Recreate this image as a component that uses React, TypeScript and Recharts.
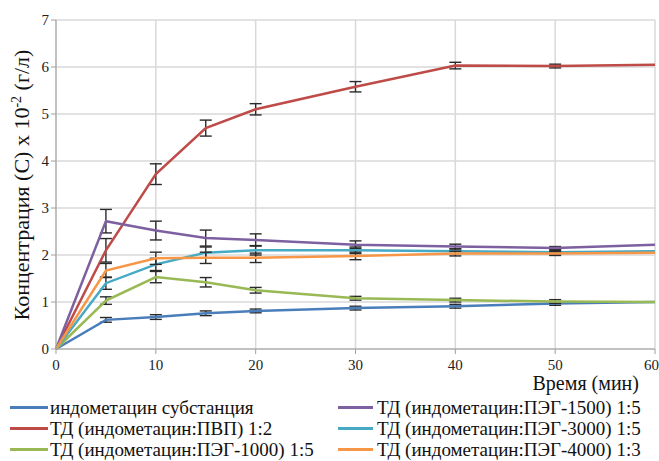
import { FC } from "react";
import {
  LineChart,
  Line,
  XAxis,
  YAxis,
  CartesianGrid,
  ErrorBar,
} from "recharts";

// Время (мин)
const times = [0, 5, 10, 15, 20, 30, 40, 50, 60];

// Концентрация (C) x 10^-2 (г/л)
const substance = [0, 0.62, 0.68, 0.76, 0.81, 0.87, 0.91, 0.97, 1.0];
const pvp = [0, 2.1, 3.72, 4.7, 5.1, 5.58, 6.03, 6.02, 6.05];
const peg1000 = [0, 1.03, 1.53, 1.42, 1.25, 1.08, 1.04, 1.01, 1.0];
const peg1500 = [0, 2.72, 2.52, 2.36, 2.32, 2.22, 2.18, 2.15, 2.22];
const peg3000 = [0, 1.4, 1.8, 2.05, 2.1, 2.1, 2.08, 2.06, 2.08];
const peg4000 = [0, 1.67, 1.93, 1.94, 1.94, 1.98, 2.03, 2.03, 2.05];

// error bar half-widths
const substanceErr = [0, 0.05, 0.05, 0.05, 0.04, 0.04, 0.04, 0.04, 0];
const pvpErr = [0, 0.25, 0.22, 0.17, 0.12, 0.11, 0.07, 0.04, 0];
const peg1000Err = [0, 0.08, 0.12, 0.1, 0.06, 0.04, 0.04, 0.04, 0];
const peg1500Err = [0, 0.25, 0.2, 0.17, 0.13, 0.08, 0.05, 0.03, 0];
const peg3000Err = [0, 0.13, 0.13, 0.12, 0.1, 0.07, 0.05, 0.04, 0];
const peg4000Err = [0, 0.15, 0.13, 0.12, 0.1, 0.08, 0.05, 0.04, 0];

const xTicks = [0, 10, 20, 30, 40, 50, 60];
const yTicks = [0, 1, 2, 3, 4, 5, 6, 7];

const series = [
  { key: "substance", name: "индометацин субстанция", color: "#4a7ebb", values: substance, err: substanceErr },
  { key: "pvp", name: "ТД (индометацин:ПВП) 1:2", color: "#be4b48", values: pvp, err: pvpErr },
  { key: "peg1000", name: "ТД (индометацин:ПЭГ-1000) 1:5", color: "#98b954", values: peg1000, err: peg1000Err },
  { key: "peg1500", name: "ТД (индометацин:ПЭГ-1500) 1:5", color: "#7d60a0", values: peg1500, err: peg1500Err },
  { key: "peg3000", name: "ТД (индометацин:ПЭГ-3000) 1:5", color: "#46aac5", values: peg3000, err: peg3000Err },
  { key: "peg4000", name: "ТД (индометацин:ПЭГ-4000) 1:3", color: "#f79646", values: peg4000, err: peg4000Err },
];

const data = times.map((t, i) => {
  const row: Record<string, number> = { t };
  series.forEach((s) => {
    row[s.key] = s.values[i];
    row[s.key + "Err"] = s.err[i];
  });
  return row;
});

const FONT = "'Liberation Serif', serif";

const App: FC = () => {
  return (
    <div style={{ position: "absolute", left: 0, top: 0, width: 659, height: 461, background: "#fff", fontFamily: FONT }}>
      <LineChart width={659} height={461} data={data} margin={{ top: 20, right: 4, left: 0, bottom: 0 }} style={{ fontFamily: FONT }}>
        <CartesianGrid stroke="#d9d9d9" strokeWidth={1.5} />
        <XAxis
          dataKey="t"
          type="number"
          domain={[0, 60]}
          ticks={xTicks}
          height={112}
          stroke="#a0a0a0"
          tickSize={5}
          tick={{ fill: "#222", fontSize: 15, fontFamily: FONT, dy: 3 }}
        />
        <YAxis
          type="number"
          domain={[0, 7]}
          ticks={yTicks}
          width={56}
          stroke="#a0a0a0"
          tickSize={5}
          tick={{ fill: "#222", fontSize: 15, fontFamily: FONT }}
        />
        {series.map((s) => (
          <Line
            key={s.key}
            dataKey={s.key}
            name={s.name}
            stroke={s.color}
            strokeWidth={2.5}
            dot={false}
            activeDot={false}
            isAnimationActive={false}
          >
            <ErrorBar dataKey={s.key + "Err"} width={6} stroke="#2a2a2a" strokeWidth={1.4} />
          </Line>
        ))}
        <text
          transform="translate(29, 185) rotate(-90)"
          textAnchor="middle"
          fontSize={22}
          style={{ fontFamily: FONT }}
          fill="#111"
        >
          Концентрация (C) x 10<tspan dy={-8} fontSize={14}>-2</tspan>
          <tspan dy={8}> (г/л)</tspan>
        </text>
        <text x={639} y={390} textAnchor="end" fontSize={20} style={{ fontFamily: FONT }} fill="#111">
          Время (мин)
        </text>
      </LineChart>
      <div
        style={{
          position: "absolute",
          left: 10,
          top: 397,
          width: 650,
          display: "grid",
          gridTemplateColumns: "328px 322px",
          gridAutoFlow: "column",
          gridTemplateRows: "21px 21px 21px",
          fontSize: 19,
          color: "#111",
          lineHeight: "21px",
        }}
      >
        {series.map((s, i) => (
          <div key={s.key} style={{ display: "flex", alignItems: "center", whiteSpace: "nowrap" }}>
            <span
              style={{
                display: "inline-block",
                width: i < 3 ? 38 : 35,
                height: 3,
                background: s.color,
                marginRight: i < 3 ? 2 : 4,
              }}
            />
            {s.name}
          </div>
        ))}
      </div>
    </div>
  );
};

export default App;
